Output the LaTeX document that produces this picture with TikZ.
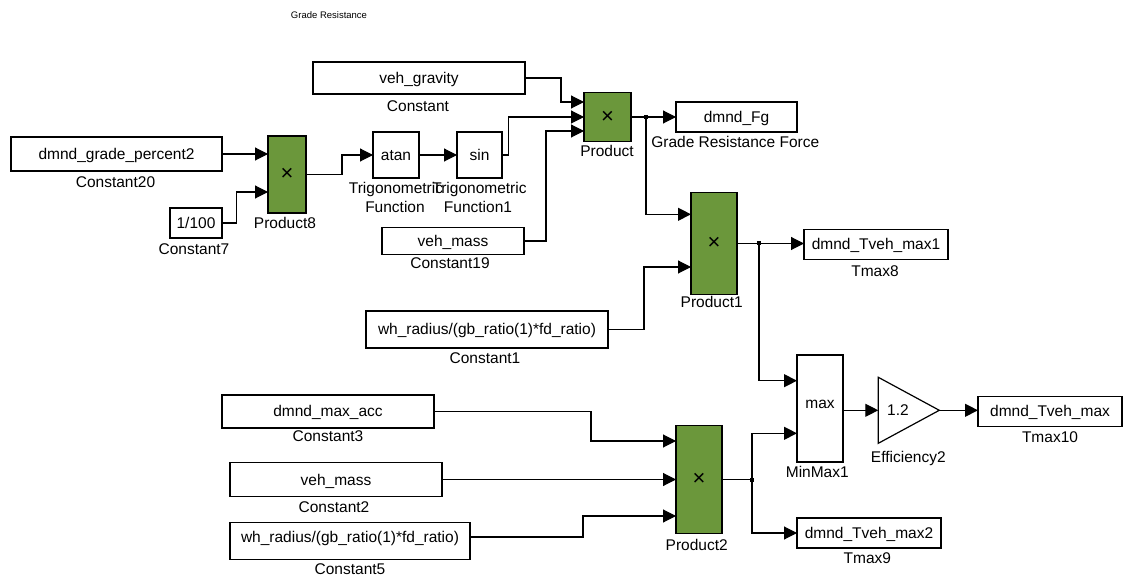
\documentclass[tikz,border=0pt]{standalone}
\usepackage{fontspec}
\setmainfont{Liberation Sans}
\usetikzlibrary{arrows.meta,calc}
\definecolor{prodgreen}{RGB}{107,151,59}
\newcommand{\prodx}{{\fontsize{22}{22}\selectfont ×}}
\begin{document}
\begin{tikzpicture}[x=1pt,y=-1pt,
  every node/.style={font=\fontsize{15.5}{18}\selectfont},
  blk/.style={draw, line width=1.2pt, fill=white, inner sep=0pt, outer sep=0pt, text height=12.5pt, text depth=1.5pt},
  prodblk/.style={draw, line width=1.2pt, fill=prodgreen, inner sep=0pt, outer sep=0pt},
  lbl/.style={inner sep=0pt, anchor=base},
  wire/.style={line width=1.1pt, -{Triangle[length=13pt,width=13pt]}},
  wireline/.style={line width=1.1pt},
  branchdot/.style={fill, rectangle, minimum size=4pt, inner sep=0pt},
]
\path[use as bounding box] (0,0) rectangle (1128,577);

% title
\node[lbl, anchor=center, font=\fontsize{9.5}{11}\selectfont] (title) at (329,15) {Grade Resistance};

% blocks
\node[blk, minimum width=211pt, minimum height=34pt] (c20) at (116.5,154) {dmnd\_grade\_percent2};
\node[blk, minimum width=52pt, minimum height=30pt] (c7) at (196,223) {1/100};
\node[prodblk, minimum width=38pt, minimum height=77pt] (p8) at (287,174.5) {\prodx};
\node[blk, minimum width=46pt, minimum height=46pt] (atan) at (396,155) {atan};
\node[blk, minimum width=45pt, minimum height=46pt] (sin) at (479.5,155) {sin};
\node[blk, minimum width=212pt, minimum height=32pt] (c0) at (419,78) {veh\_gravity};
\node[blk, minimum width=142pt, minimum height=27pt] (c19) at (453,241) {veh\_mass};
\node[prodblk, minimum width=47pt, minimum height=49pt] (p0) at (607.5,117) {\prodx};
\node[blk, minimum width=121pt, minimum height=30pt] (fg) at (736.5,117) {dmnd\_Fg};
\node[prodblk, minimum width=46pt, minimum height=102pt] (p1) at (714,243.5) {\prodx};
\node[blk, minimum width=144pt, minimum height=30pt] (t8) at (876,244.5) {dmnd\_Tveh\_max1};
\node[blk, minimum width=242pt, minimum height=37pt] (c1) at (487,329.5) {wh\_radius/(gb\_ratio(1)*fd\_ratio)};
\node[blk, minimum width=46pt, minimum height=107pt] (mm) at (820,408.5) {};
\node[inner sep=0pt] (mmtext) at (820,404) {max};
\node[inner sep=0pt, outer sep=0pt, minimum width=61pt, minimum height=66pt] (eff) at (908.8,410.3) {};
\draw[line width=1.2pt, fill=white] (eff.north west) -- (eff.east) -- (eff.south west) -- cycle;
\node[inner sep=0pt] (efftext) at (898,410) {1.2};
\node[blk, minimum width=144pt, minimum height=30pt] (t10) at (1050,411.5) {dmnd\_Tveh\_max};
\node[prodblk, minimum width=46pt, minimum height=108pt] (p2) at (699,479.5) {\prodx};
\node[blk, minimum width=212pt, minimum height=33pt] (c3) at (328,411.5) {dmnd\_max\_acc};
\node[blk, minimum width=212pt, minimum height=34pt] (c2) at (336,479.5) {veh\_mass};
\node[blk, minimum width=240pt, minimum height=36.6pt] (c5) at (350,541) {\raisebox{4pt}{wh\_radius/(gb\_ratio(1)*fd\_ratio)}};
\node[blk, minimum width=144pt, minimum height=30pt] (t9) at (869,533) {dmnd\_Tveh\_max2};

% labels
\node[lbl] (lc0) at (418,112) {Constant};
\node[lbl] (lc20) at (115.5,187.5) {Constant20};
\node[lbl] (lp8) at (285,228.5) {Product8};
\node[lbl] (lc7) at (194,254.5) {Constant7};
\node[lbl] (ltr1) at (396,193.8) {Trigonometric};
\node[lbl] (lfn1) at (395,212.8) {Function};
\node[lbl] (ltr2) at (479.5,193.8) {Trigonometric};
\node[lbl] (lfn2) at (478,212.8) {Function1};
\node[lbl] (lc19) at (450,268.8) {Constant19};
\node[lbl] (lp0) at (607,157) {Product};
\node[lbl] (lfg) at (735.3,148) {Grade Resistance Force};
\node[lbl] (lp1) at (711.7,307.8) {Product1};
\node[lbl] (lt8) at (875,277) {Tmax8};
\node[lbl] (lc1) at (485,363.5) {Constant1};
\node[lbl] (lmm) at (817.3,477) {MinMax1};
\node[lbl] (leff) at (908.3,462) {Efficiency2};
\node[lbl] (lt10) at (1050,442.5) {Tmax10};
\node[lbl] (lc3) at (328,442) {Constant3};
\node[lbl] (lc2) at (334,512) {Constant2};
\node[lbl] (lp2) at (696.7,550.5) {Product2};
\node[lbl] (lc5) at (350,574.5) {Constant5};
\node[lbl] (lt9) at (867.3,563) {Tmax9};

% input ports
\coordinate (p8a) at (268,154);
\coordinate (p8b) at (268,192);
\coordinate (p0a) at (584,102);
\coordinate (p0b) at (584,117);
\coordinate (p0c) at (584,131);
\coordinate (p1a) at (691,214.3);
\coordinate (p1b) at (691,267);
\coordinate (mma) at (797,380.7);
\coordinate (mmb) at (797,433.3);
\coordinate (p2a) at (676,441);
\coordinate (p2c) at (676,516);

% branch points
\node[branchdot] (d1) at (646,117) {};
\node[branchdot] (d2) at (759,243.5) {};
\node[branchdot] (d3) at (752,479.5) {};

% wires
\draw[wire] (c20.east) -- (p8a);
\draw[wire] (c7.east) -- ++(14.5,0) |- (p8b);
\draw[wire] (p8.east) -- ++(36,0) |- (atan.west);
\draw[wire] (atan.east) -- (sin.west);
\draw[wire] (sin.east) -- ++(6.5,0) |- (p0b);
\draw[wire] (c0.east) -- ++(36,0) |- (p0a);
\draw[wire] (c19.east) -- ++(22,0) |- (p0c);
\draw[wire] (p0.east) -- (fg.west);
\draw[wire] (d1.center) |- (p1a);
\draw[wire] (p1.east) -- (p1.east -| t8.west);
\draw[wire] (d2.center) |- (mma);
\draw[wire] (c1.east) -- ++(36,0) |- (p1b);
\draw[wire] (mm.east |- eff.west) -- (eff.west);
\draw[wire] (eff.east) -- (eff.east -| t10.west);
\draw[wire] (c3.east) -- ++(157,0) |- (p2a);
\draw[wire] (c2.east) -- (c2.east -| p2.west);
\draw[wire] ([yshift=4pt]c5.east) -- ++(113,0) |- (p2c);
\draw[wireline] (p2.east) -- (d3.center);
\draw[wire] (d3.center) |- (mmb);
\draw[wire] (d3.center) |- (t9.west);
\end{tikzpicture}
\end{document}
